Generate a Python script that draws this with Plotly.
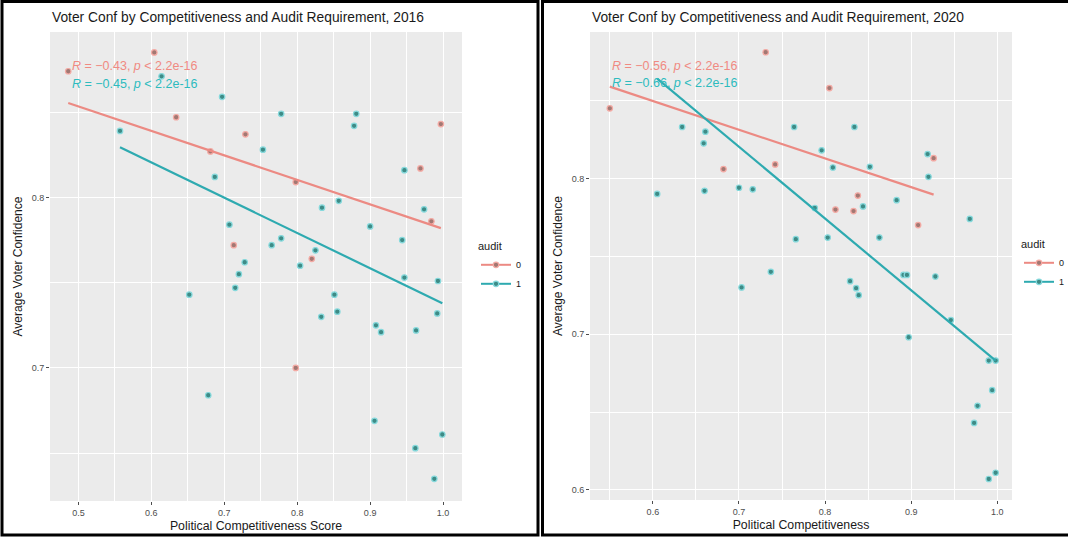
import plotly.graph_objects as go

W, H = 1068, 537

# ---- 2016 panel data -------------------------------------------------------
x0_2016 = [0.486, 0.604, 0.634, 0.681, 0.729, 0.798, 0.969, 0.997, 0.984, 0.713, 0.820, 0.798]
y0_2016 = [0.874, 0.885, 0.847, 0.827, 0.837, 0.809, 0.817, 0.843, 0.786, 0.772, 0.764, 0.700]

x1_2016 = [0.614, 0.697, 0.557, 0.778, 0.881, 0.878, 0.753, 0.687, 0.947,
           0.834, 0.857, 0.974, 0.900, 0.944, 0.707, 0.765, 0.778, 0.825, 0.728,
           0.720, 0.715, 0.804, 0.652, 0.947, 0.993, 0.851, 0.855, 0.833, 0.992,
           0.908, 0.915, 0.963, 0.678, 0.906, 0.999, 0.962, 0.988]
y1_2016 = [0.871, 0.859, 0.839, 0.849, 0.849, 0.842, 0.828, 0.812, 0.816,
           0.794, 0.798, 0.793, 0.783, 0.775, 0.784, 0.772, 0.776, 0.769, 0.762,
           0.755, 0.747, 0.760, 0.743, 0.753, 0.751, 0.743, 0.733, 0.730, 0.732,
           0.725, 0.721, 0.722, 0.684, 0.669, 0.661, 0.653, 0.635]

fit0_2016_x = [0.486, 0.997]
fit0_2016_y = [0.8554, 0.7820]
fit1_2016_x = [0.557, 0.999]
fit1_2016_y = [0.8294, 0.7380]

# ---- 2020 panel data -------------------------------------------------------
x0_2020 = [0.550, 0.731, 0.805, 0.682, 0.742, 0.926, 0.812, 0.833, 0.838, 0.908]
y0_2020 = [0.845, 0.881, 0.858, 0.806, 0.809, 0.813, 0.780, 0.779, 0.789, 0.770]

x1_2020 = [0.634, 0.764, 0.834, 0.661, 0.659, 0.796, 0.919, 0.809, 0.852, 0.920,
           0.700, 0.716, 0.660, 0.605, 0.788, 0.844, 0.883, 0.968, 0.766, 0.803,
           0.863, 0.737, 0.703, 0.829, 0.836, 0.839, 0.891, 0.895, 0.928, 0.946,
           0.897, 0.990, 0.998, 0.994, 0.977, 0.973, 0.998, 0.990]
y1_2020 = [0.833, 0.833, 0.833, 0.830, 0.8225, 0.818, 0.8156, 0.807, 0.8074, 0.801,
           0.794, 0.793, 0.792, 0.790, 0.781, 0.782, 0.786, 0.774, 0.761, 0.762,
           0.762, 0.740, 0.730, 0.734, 0.7295, 0.725, 0.738, 0.738, 0.737, 0.709,
           0.698, 0.683, 0.683, 0.664, 0.654, 0.643, 0.611, 0.607]

fit0_2020_x = [0.550, 0.926]
fit0_2020_y = [0.8589, 0.7896]
fit1_2020_x = [0.605, 0.998]
fit1_2020_y = [0.8640, 0.6830]

groups = ["0", "1"]
stats_2016 = ["<i>R</i> = \u22120.43, <i>p</i> &lt; 2.2e-16", "<i>R</i> = \u22120.45, <i>p</i> &lt; 2.2e-16"]
stats_2020 = ["<i>R</i> = \u22120.56, <i>p</i> &lt; 2.2e-16", "<i>R</i> = \u22120.66, <i>p</i> &lt; 2.2e-16"]

titles = ["Voter Conf by Competitiveness and Audit Requirement, 2016",
          "Voter Conf by Competitiveness and Audit Requirement, 2020"]
xtitles = ["Political Competitiveness Score", "Political Competitiveness"]
ytitle = "Average Voter Confidence"

# ---- styling ---------------------------------------------------------------
FONT = "Liberation Sans, Arial, sans-serif"
LINE_COL = ["#EC8A83", "#2EAAB0"]
PT_FILL = ["#A27873", "#3E8B86"]
PT_RING = ["#F4AAA4", "#86D9DC"]
TXT_COL = ["#F08A82", "#2DBBBE"]

def px_x(p):
    return p / W

def px_y(p):
    return 1 - p / H

panels = [
    dict(xs=[x0_2016, x1_2016], ys=[y0_2016, y1_2016],
         fx=[fit0_2016_x, fit1_2016_x], fy=[fit0_2016_y, fit1_2016_y],
         stats=stats_2016, xref="x", yref="y", legend="legend",
         xdom=[px_x(50), px_x(462)], ydom=[px_y(501), px_y(32)],
         xrange=[0.461, 1.026], yrange=[0.622, 0.897]),
    dict(xs=[x0_2020, x1_2020], ys=[y0_2020, y1_2020],
         fx=[fit0_2020_x, fit1_2020_x], fy=[fit0_2020_y, fit1_2020_y],
         stats=stats_2020, xref="x2", yref="y2", legend="legend2",
         xdom=[px_x(590), px_x(1012)], ydom=[px_y(500), px_y(32)],
         xrange=[0.527, 1.017], yrange=[0.5935, 0.894]),
]

fig = go.Figure()

for p in panels:
    for g in range(2):
        fig.add_trace(go.Scatter(
            x=p["xs"][g], y=p["ys"][g], mode="markers", xaxis=p["xref"], yaxis=p["yref"],
            marker=dict(size=5.5, color=PT_FILL[g], line=dict(color=PT_RING[g], width=1.2)),
            showlegend=False, hoverinfo="x+y"))
    for g in range(2):
        fig.add_trace(go.Scatter(
            x=p["fx"][g], y=p["fy"][g], mode="lines", xaxis=p["xref"], yaxis=p["yref"],
            line=dict(color=LINE_COL[g], width=2.2), showlegend=False))
    # legend keys (line with point, as in the ggplot guide)
    for g in range(2):
        fig.add_trace(go.Scatter(
            x=[None], y=[None], mode="lines+markers", name=groups[g],
            xaxis=p["xref"], yaxis=p["yref"], legend=p["legend"],
            line=dict(color=LINE_COL[g], width=2),
            marker=dict(size=5.5, color=PT_FILL[g], line=dict(color=PT_RING[g], width=1.2))))

axis_common = dict(
    showgrid=True, gridcolor="white", gridwidth=1.2, zeroline=False, showline=False,
    ticks="outside", ticklen=3, tickwidth=1, tickcolor="#4D4D4D",
    tickfont=dict(family=FONT, size=9, color="#4D4D4D"), tickformat=".1f",
    dtick=0.1, tick0=0,
    minor=dict(dtick=0.05, tick0=0, showgrid=True, gridcolor="white", gridwidth=0.6, ticks=""),
)

layout_axes = {}
for i, p in enumerate(panels):
    sfx = "" if i == 0 else str(i + 1)
    layout_axes["xaxis" + sfx] = dict(
        axis_common, domain=p["xdom"], range=p["xrange"], anchor="y" + sfx,
        title=dict(text=xtitles[i], font=dict(family=FONT, size=12.3, color="#1A1A1A"), standoff=4))
    layout_axes["yaxis" + sfx] = dict(
        axis_common, domain=p["ydom"], range=p["yrange"], anchor="x" + sfx,
        title=dict(text=ytitle, font=dict(family=FONT, size=12, color="#1A1A1A"), standoff=6))

annotations = []
for i, p in enumerate(panels):
    sfx = "" if i == 0 else str(i + 1)
    annotations.append(dict(
        text=titles[i], xref="paper", yref="paper",
        x=p["xdom"][0], y=px_y(17), xanchor="left", yanchor="middle", showarrow=False,
        font=dict(family=FONT, size=13.8, color="#1A1A1A")))
    for g, yy in enumerate([0.928, 0.890]):
        annotations.append(dict(
            text=p["stats"][g], xref="x%s domain" % sfx, yref="y%s domain" % sfx,
            x=0.048, y=yy, xanchor="left", yanchor="middle", showarrow=False,
            font=dict(family=FONT, size=12.5, color=TXT_COL[g])))

legend_style = dict(
    xanchor="left", yanchor="top", bgcolor="rgba(0,0,0,0)", borderwidth=0,
    font=dict(family=FONT, size=9, color="#1A1A1A"), itemwidth=30, tracegroupgap=0,
    title=dict(text="audit", font=dict(family=FONT, size=11, color="#1A1A1A")))

# frames around the two panels
shapes = [
    dict(type="rect", xref="paper", yref="paper",
         x0=px_x(2), x1=px_x(538), y0=px_y(535), y1=px_y(1.5),
         line=dict(color="black", width=3)),
    dict(type="rect", xref="paper", yref="paper",
         x0=px_x(542.5), x1=px_x(1080), y0=px_y(535), y1=px_y(1.5),
         line=dict(color="black", width=3)),
]

fig.update_layout(
    width=W, height=H, margin=dict(l=0, r=0, t=0, b=0, autoexpand=False),
    paper_bgcolor="white", plot_bgcolor="#EBEBEB",
    font=dict(family=FONT, color="#1A1A1A"),
    annotations=annotations, shapes=shapes,
    legend=dict(legend_style, x=px_x(476), y=px_y(236)),
    legend2=dict(legend_style, x=px_x(1019), y=px_y(234)),
    **layout_axes,
)

fig.write_html("out.html")
